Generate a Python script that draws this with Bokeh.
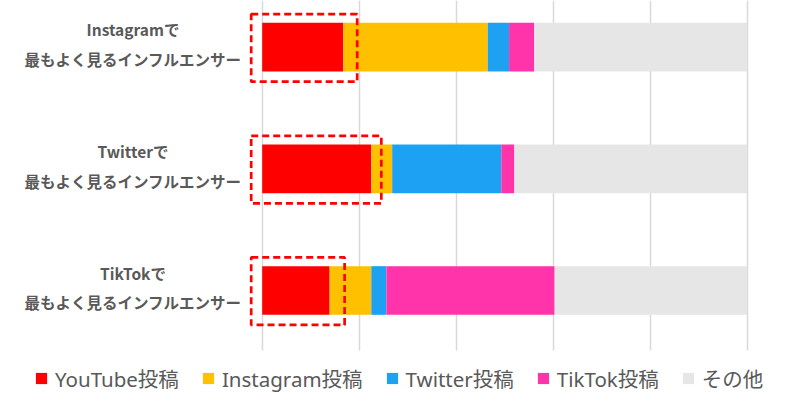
import numpy as np
from bokeh.plotting import figure
from bokeh.models import ColumnDataSource, Range1d, FixedTicker, Legend, LegendItem, BoxAnnotation
from bokeh.core.properties import value
from bokeh.embed import file_html
from bokeh.resources import INLINE

# ---- data ----
platforms = ["Instagram", "Twitter", "TikTok"]
label_line2 = "最もよく見るインフルエンサー"
series = ["YouTube投稿", "Instagram投稿", "Twitter投稿", "TikTok投稿", "その他"]
youtube = [16.7, 22.5, 13.9]
instagram = [29.8, 4.3, 8.6]
twitter = [4.4, 22.5, 3.1]
tiktok = [5.2, 2.7, 34.7]
other = [43.9, 48.0, 39.7]
x_ticks = [0, 20, 40, 60, 80, 100]

# ---- styles ----
colors = ["#FF0000", "#FFC000", "#1DA1F2", "#FF33AA", "#E6E6E6"]
text_color = "#595959"
latin_cjk = "'Noto Sans', 'Noto Sans CJK JP', sans-serif"

W, H = 784, 396
ppx = 4.85                 # px per x unit (0..100 spans 485 px)
zero_px = 261.7            # canvas x of value 0
x0 = -zero_px / ppx
x1 = x0 + W / ppx
pitch = 121.65             # px per category
first_center_px = 46.7
y_top = -first_center_px / pitch
y_bot = y_top + H / pitch
grid_bottom_px = 350

keys = ["youtube", "instagram", "twitter", "tiktok", "other"]
ypos = list(range(len(platforms)))
src = ColumnDataSource(dict(
    y=ypos, youtube=youtube, instagram=instagram, twitter=twitter,
    tiktok=tiktok, other=other,
))

p = figure(width=W, height=H, output_backend="svg", toolbar_location=None,
           x_range=Range1d(x0, x1), y_range=Range1d(y_bot, y_top),
           min_border=0)
p.outline_line_color = None
p.background_fill_color = "white"
p.border_fill_color = "white"
p.xaxis.visible = False
p.yaxis.visible = False
p.ygrid.visible = False
p.xgrid.ticker = FixedTicker(ticks=x_ticks)
p.xgrid.grid_line_color = "#D9D9D9"
p.xgrid.grid_line_width = 1.5

rends = p.hbar_stack(keys, y="y", height=0.4, color=colors, line_width=0, source=src)

# highlight boxes around YouTube segments
pads_px = [14, 10, 15]
hl_src = ColumnDataSource(dict(
    left=[-11 / ppx] * len(platforms),
    right=[v + pp / ppx for v, pp in zip(youtube, pads_px)],
    y=[yy + 0.7 / pitch for yy in ypos],
))
p.hbar(y="y", left="left", right="right", height=0.555, source=hl_src,
       fill_alpha=0, line_color="#FF0000", line_width=2.7, line_dash="7 4")

# category labels (two lines each)
label_x = (132.5 - zero_px) / ppx
lab_src = ColumnDataSource(dict(
    x=[label_x] * len(platforms),
    y1=[yy - 18 / pitch for yy in ypos],
    y2=[yy + 11.8 / pitch for yy in ypos],
    t1=[s + "で" for s in platforms],
    t2=[label_line2] * len(platforms),
))
common = dict(text_align="center", text_baseline="middle",
              text_font=value("Noto Sans CJK JP"), text_font_style="bold",
              text_font_size="15.5px", text_color=text_color, source=lab_src)
p.text(x="x", y="y1", text="t1", **common)
p.text(x="x", y="y2", text="t2", **common)

# white band under the plot area (grid lines stop above the legend)
p.add_layout(BoxAnnotation(left=x0, right=x1, top=y_top + grid_bottom_px / pitch,
                           bottom=y_bot, fill_color="white", fill_alpha=1,
                           line_color=None))

legend = Legend(items=[LegendItem(label=s, renderers=[r]) for s, r in zip(series, rends)],
                orientation="horizontal", location=(34, 3),
                glyph_width=14, glyph_height=14, label_standoff=7, spacing=22,
                padding=32, margin=0,
                label_text_font=latin_cjk, label_text_font_size="20.5px",
                label_text_color=text_color,
                background_fill_alpha=0, border_line_color=None)
p.add_layout(legend)

open("out.html", "w").write(file_html(p, INLINE))
